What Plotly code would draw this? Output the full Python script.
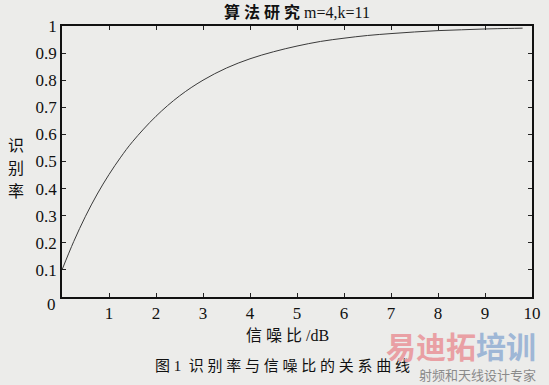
import plotly.graph_objects as go

# data
snr_db = [0, 0.25, 0.5, 0.75, 1, 1.25, 1.5, 2, 2.5, 3, 3.5, 4, 4.5, 5, 5.5, 6,
          6.5, 7, 7.5, 8, 8.5, 9, 9.5, 9.8]
recog_rate = [0.10, 0.205, 0.298, 0.38, 0.452, 0.516, 0.573, 0.667, 0.742, 0.80,
              0.845, 0.879, 0.905, 0.926, 0.943, 0.955, 0.965, 0.972, 0.978,
              0.983, 0.986, 0.989, 0.991, 0.992]
x_ticks = [1, 2, 3, 4, 5, 6, 7, 8, 9, 10]
y_ticks = [0.1, 0.2, 0.3, 0.4, 0.5, 0.6, 0.7, 0.8, 0.9, 1]
y_tick_text = ["0.1", "0.2", "0.3", "0.4", "0.5", "0.6", "0.7", "0.8", "0.9", "1"]
y_label_chars = ["识", "别", "率"]

serif = "Liberation Serif"
cjk = "Noto Sans CJK SC"
mix = "Liberation Serif, Noto Sans CJK SC"
bg = "#ececea"

fig = go.Figure()
fig.add_trace(go.Scatter(x=snr_db, y=recog_rate, mode="lines",
                         line=dict(color="#3a3a3a", width=1, shape="spline",
                                   smoothing=1.0),
                         showlegend=False, hoverinfo="skip"))

axis_common = dict(showgrid=False, zeroline=False, showline=True, linecolor="#111",
                   linewidth=1.5, mirror="ticks", ticks="inside", ticklen=4,
                   tickcolor="#222", tickwidth=1,
                   tickfont=dict(family=serif, size=17, color="#111"))

annotations = [
    dict(text="<b>算 法 研 究</b> m=4,k=11", xref="paper", yref="paper", x=0.5, y=1,
         yshift=3, xanchor="center", yanchor="bottom", showarrow=False,
         font=dict(family=mix, size=16, color="#111")),
    dict(text="0", xref="paper", yref="y", x=0, y=0, xanchor="right",
         yanchor="middle", xshift=-4, yshift=-7, showarrow=False,
         font=dict(family=serif, size=17, color="#111")),
    dict(text="信 噪 比 /dB", xref="paper", yref="paper", x=0.48, y=0,
         yshift=-28, xanchor="center", yanchor="top", showarrow=False,
         font=dict(family=mix, size=16, color="#111")),
    dict(text="图 1  识 别 率 与 信 噪 比 的 关 系 曲 线", xref="paper",
         yref="paper", x=0.47, y=0, yshift=-59, xanchor="center",
         yanchor="top", showarrow=False,
         font=dict(family=mix, size=15, color="#111")),
    dict(text="<b><span style='color:#e9a0a4'>易迪拓</span><span style='color:#9fb7d6'>培训</span></b>",
         xref="paper", yref="paper", x=1, y=0, xshift=6, yshift=-24,
         xanchor="right", yanchor="top", showarrow=False,
         font=dict(family=cjk, size=30)),
    dict(text="射频和天线设计专家", xref="paper", yref="paper", x=1, y=0,
         xshift=6, yshift=-66, xanchor="right", yanchor="top", showarrow=False,
         font=dict(family=cjk, size=13, color="#8a8a8a")),
]
for i, ch in enumerate(y_label_chars):
    annotations.append(dict(text=ch, xref="paper", yref="paper", x=0, y=0.565,
                            xshift=-46, yshift=-23 * i, xanchor="center",
                            yanchor="middle", showarrow=False,
                            font=dict(family=cjk, size=16, color="#111")))

fig.update_layout(
    width=549, height=385,
    margin=dict(l=62, r=8, t=26, b=88),
    paper_bgcolor=bg, plot_bgcolor=bg,
    xaxis=dict(range=[0, 10], tickvals=x_ticks, ticktext=[str(t) for t in x_ticks],
               **axis_common),
    yaxis=dict(range=[0, 1], tickvals=y_ticks, ticktext=y_tick_text, **axis_common),
    annotations=annotations,
)

fig.write_html("out.html")
